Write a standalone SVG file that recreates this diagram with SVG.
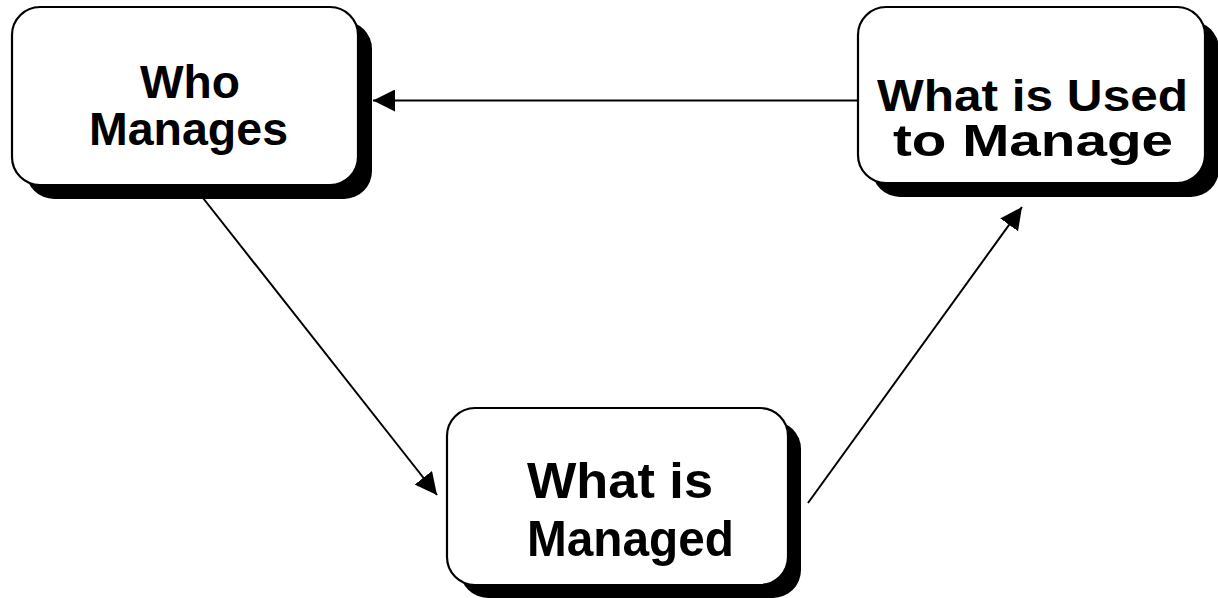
<svg xmlns="http://www.w3.org/2000/svg" width="1218" height="598" viewBox="0 0 1218 598">
<style>
.shadow{fill:#000;}
.box{fill:#fff;stroke:#000;stroke-width:2.2;}
.lbl{font-family:"Liberation Sans",Arial,sans-serif;font-weight:bold;fill:#000;}
.conn{stroke:#000;stroke-width:2;fill:none;}
</style>
<defs>
<marker id="arr" markerWidth="22" markerHeight="22" viewBox="0 0 22 22" refX="22" refY="11" orient="auto" markerUnits="userSpaceOnUse">
<path d="M0,0 L22,11 L0,22 Z" fill="#000"/>
</marker>
</defs>
<g id="connectors">
<line class="conn" x1="858" y1="100.5" x2="373" y2="100.5" marker-end="url(#arr)"/>
<line class="conn" x1="203" y1="198" x2="437" y2="495" marker-end="url(#arr)"/>
<line class="conn" x1="808" y1="503" x2="1022" y2="207" marker-end="url(#arr)"/>
</g>
<g id="who-manages">
<rect class="shadow" x="26" y="21" width="346" height="178" rx="28"/>
<rect class="box" x="12" y="7" width="346" height="178" rx="28"/>
<text class="lbl" font-size="46" x="140" y="98" textLength="100" lengthAdjust="spacingAndGlyphs">Who</text>
<text class="lbl" font-size="46" x="89" y="145" textLength="199" lengthAdjust="spacingAndGlyphs">Manages</text>
</g>
<g id="what-is-used">
<rect class="shadow" x="872" y="21" width="347" height="176" rx="28"/>
<rect class="box" x="858" y="7" width="347" height="176" rx="28"/>
<text class="lbl" font-size="44" x="877" y="111" textLength="311" lengthAdjust="spacingAndGlyphs">What is Used</text>
<text class="lbl" font-size="44" x="893" y="156" textLength="280" lengthAdjust="spacingAndGlyphs">to Manage</text>
</g>
<g id="what-is-managed">
<rect class="shadow" x="460" y="421" width="341" height="177" rx="28"/>
<rect class="box" x="447" y="408" width="341" height="177" rx="28"/>
<text class="lbl" font-size="50" x="527" y="498" textLength="186" lengthAdjust="spacingAndGlyphs">What is</text>
<text class="lbl" font-size="50" x="527" y="556" textLength="207" lengthAdjust="spacingAndGlyphs">Managed</text>
</g>
</svg>
